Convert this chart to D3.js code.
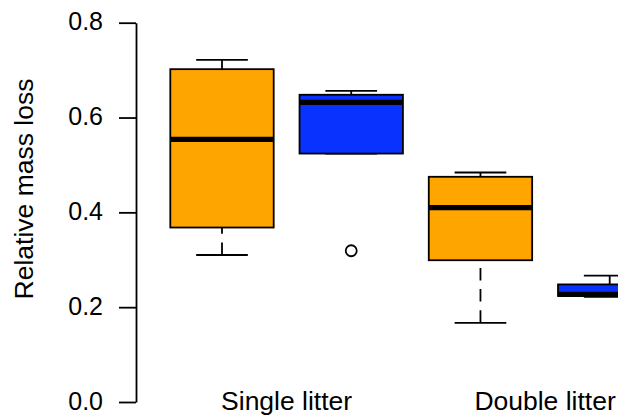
<!DOCTYPE html>
<html>
<head>
<meta charset="utf-8">
<script src="https://cdn.jsdelivr.net/npm/d3@7"></script>
<style>
  body { margin: 0; background: #fff; }
  svg { display: block; font-family: "Liberation Sans", Arial, sans-serif; }
</style>
</head>
<body>
<div id="chart"></div>
<script>
// box stats: [lower whisker, Q1, median, Q3, upper whisker]
const positions = [1, 2, 3, 4];
const fills = ["#FFA500", "#0A32FF", "#FFA500", "#0A32FF"];
const lowWhisker = [0.310, 0.524, 0.167, 0.222];
const q1 = [0.368, 0.524, 0.299, 0.2236];
const medians = [0.554, 0.632, 0.410, 0.2268];
const q3 = [0.702, 0.648, 0.475, 0.248];
const highWhisker = [0.7215, 0.656, 0.484, 0.2665];
const outliers = [{ pos: 2, value: 0.319 }];
const groupLabels = ["Single litter", "Double litter"];
const groupCenters = [1.5, 3.5];
const yTicks = [0.0, 0.2, 0.4, 0.6, 0.8];

const width = 618, height = 419;

const svg = d3.select("#chart").append("svg")
  .attr("width", width)
  .attr("height", height);

// Y
const y = d3.scaleLinear().domain([0, 0.8]).range([402, 22.7]);
// X
const x = d3.scaleLinear().domain([1, 4]).range([222, 609.7]);
const halfBox = 0.4 * (x(2) - x(1));
const halfCap = halfBox / 2;

const boxes = positions.map((p, i) => ({
  pos: p, fill: fills[i],
  lo: lowWhisker[i], q1: q1[i], med: medians[i], q3: q3[i], hi: highWhisker[i]
}));

const g = svg.append("g");

// whiskers (dashed, drawn from whisker end toward the box)
g.selectAll(".wlo").data(boxes).enter().append("line")
  .attr("x1", d => x(d.pos)).attr("x2", d => x(d.pos))
  .attr("y1", d => y(d.lo)).attr("y2", d => y(d.q1))
  .attr("stroke", "#000").attr("stroke-width", 1.8)
  .attr("stroke-dasharray", "12.5,8.7");
g.selectAll(".whi").data(boxes).enter().append("line")
  .attr("x1", d => x(d.pos)).attr("x2", d => x(d.pos))
  .attr("y1", d => y(d.hi)).attr("y2", d => y(d.q3))
  .attr("stroke", "#000").attr("stroke-width", 1.8)
  .attr("stroke-dasharray", "12.5,8.7");

// staples
["lo", "hi"].forEach(k => {
  g.selectAll(".cap-" + k).data(boxes).enter().append("line")
    .attr("x1", d => x(d.pos) - halfCap).attr("x2", d => x(d.pos) + halfCap)
    .attr("y1", d => y(d[k])).attr("y2", d => y(d[k]))
    .attr("stroke", "#000").attr("stroke-width", 1.8);
});

// boxes
g.selectAll("rect").data(boxes).enter().append("rect")
  .attr("x", d => x(d.pos) - halfBox)
  .attr("y", d => y(d.q3))
  .attr("width", 2 * halfBox)
  .attr("height", d => y(d.q1) - y(d.q3))
  .attr("fill", d => d.fill)
  .attr("stroke", "#000").attr("stroke-width", 1.8);

// medians
g.selectAll(".med").data(boxes).enter().append("line")
  .attr("x1", d => x(d.pos) - halfBox).attr("x2", d => x(d.pos) + halfBox)
  .attr("y1", d => y(d.med)).attr("y2", d => y(d.med))
  .attr("stroke", "#000").attr("stroke-width", 5.3);

// outliers
g.selectAll("circle").data(outliers).enter().append("circle")
  .attr("cx", d => x(d.pos)).attr("cy", d => y(d.value))
  .attr("r", 5.5).attr("fill", "none")
  .attr("stroke", "#000").attr("stroke-width", 1.8);

// Y axis
const yAxis = svg.append("g")
  .attr("transform", "translate(136,0)")
  .call(d3.axisLeft(y).tickValues(yTicks).tickFormat(d3.format(".1f"))
    .tickSize(17).tickSizeOuter(0).tickPadding(16));
yAxis.select(".domain").attr("stroke-width", 1.8);
yAxis.selectAll(".tick line").attr("stroke-width", 1.8);
yAxis.selectAll(".tick text")
  .attr("font-size", "25px").attr("font-family", "Liberation Sans, Arial, sans-serif")
  .attr("fill", "#000").attr("dy", "0.28em");

svg.append("text")
  .attr("transform", "translate(33,189) rotate(-90)")
  .attr("text-anchor", "middle")
  .style("font-size", "26.5px")
  .text("Relative mass loss");

// group labels
svg.selectAll(".glabel").data(groupLabels).enter().append("text")
  .attr("x", (d, i) => x(groupCenters[i]))
  .attr("y", 410)
  .attr("text-anchor", "middle")
  .style("font-size", "26.5px")
  .text(d => d);
</script>
</body>
</html>
